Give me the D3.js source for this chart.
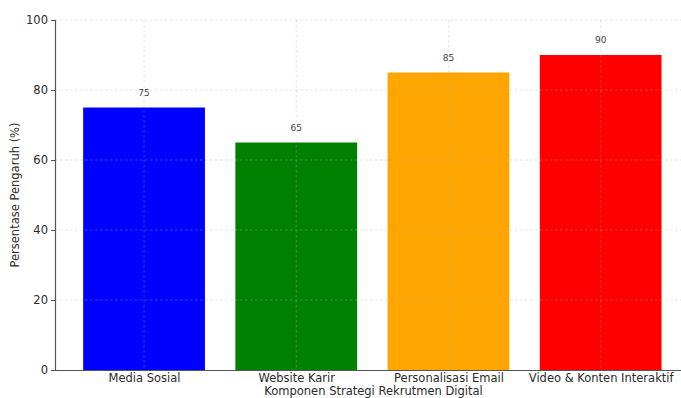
<!DOCTYPE html>
<html>
<head>
<meta charset="utf-8">
<script src="https://cdn.jsdelivr.net/npm/d3@7"></script>
<style>
  html, body { margin: 0; padding: 0; background: #fff; }
  svg { display: block; font-family: "DejaVu Sans", sans-serif; }
</style>
</head>
<body>
<div id="chart"></div>
<script>
const CATEGORIES = ["Media Sosial", "Website Karir", "Personalisasi Email", "Video & Konten Interaktif"];
const VALUES = [75, 65, 85, 90];
const COLORS = ["#0000ff", "#008000", "#ffa500", "#ff0000"];
const Y_TICKS = [0, 20, 40, 60, 80, 100];

const W = 681, H = 398;
const plotLeft = 55, plotBottom = 370, plotTop = 20;

const svg = d3.select("#chart").append("svg")
  .attr("width", W).attr("height", H);

// category index -> pixel; matplotlib-style margins around bars
const x = d3.scaleLinear().domain([-0.585, 3.6]).range([plotLeft, 692]);
const y = d3.scaleLinear().domain([0, 100]).range([plotBottom, plotTop]);
const barW = x(0.4) - x(-0.4);

/* Bars */
svg.append("g").selectAll("rect").data(VALUES).enter().append("rect")
  .attr("x", (d, i) => x(i) - barW / 2)
  .attr("y", d => y(d))
  .attr("width", barW)
  .attr("height", d => y(0) - y(d))
  .attr("fill", (d, i) => COLORS[i]);

/* Grid, drawn over bars like the original */
const grid = svg.append("g").attr("stroke", "#b0b0b0").attr("stroke-opacity", 0.45)
  .attr("stroke-dasharray", "2.5,2.5").attr("stroke-width", 0.8);
grid.selectAll("line.h").data(Y_TICKS.slice(1)).enter().append("line")
  .attr("x1", plotLeft).attr("x2", W).attr("y1", d => y(d)).attr("y2", d => y(d));
grid.selectAll("line.v").data(CATEGORIES).enter().append("line")
  .attr("x1", (d, i) => x(i)).attr("x2", (d, i) => x(i))
  .attr("y1", plotTop).attr("y2", plotBottom);

/* Value labels */
svg.append("g").selectAll("text").data(VALUES).enter().append("text")
  .attr("x", (d, i) => x(i)).attr("y", d => y(d) - 12)
  .attr("text-anchor", "middle")
  .style("font-size", "9px").style("fill", "#444")
  .text(d => d);

/* Axes */
const yAxis = svg.append("g").attr("transform", `translate(${plotLeft},0)`)
  .call(d3.axisLeft(y).tickValues(Y_TICKS).tickSize(4).tickPadding(3));
yAxis.selectAll("text").style("font-size", "11.5px").style("fill", "#2a2a2a")
  .style("font-family", "DejaVu Sans, sans-serif");

const xAxis = svg.append("g").attr("transform", `translate(0,${plotBottom})`)
  .call(d3.axisBottom(x).tickValues(d3.range(CATEGORIES.length))
    .tickFormat(i => CATEGORIES[i]).tickSize(0).tickPadding(4));
xAxis.selectAll("text").style("font-size", "11.5px").style("fill", "#2a2a2a")
  .style("font-family", "DejaVu Sans, sans-serif");
xAxis.select(".domain").attr("d", `M${plotLeft},0.5H${W}`);

svg.selectAll(".domain").attr("stroke", "#555").attr("stroke-width", 1.2);
svg.selectAll(".tick line").attr("stroke", "#555");

/* Axis titles */
svg.append("text")
  .attr("transform", `translate(19,${(plotTop + plotBottom) / 2}) rotate(-90)`)
  .attr("text-anchor", "middle")
  .style("font-size", "11.5px").style("fill", "#2a2a2a")
  .text("Persentase Pengaruh (%)");

svg.append("text")
  .attr("x", (x.range()[0] + x.range()[1]) / 2).attr("y", 395)
  .attr("text-anchor", "middle")
  .style("font-size", "11.5px").style("fill", "#2a2a2a")
  .text("Komponen Strategi Rekrutmen Digital");
</script>
</body>
</html>
